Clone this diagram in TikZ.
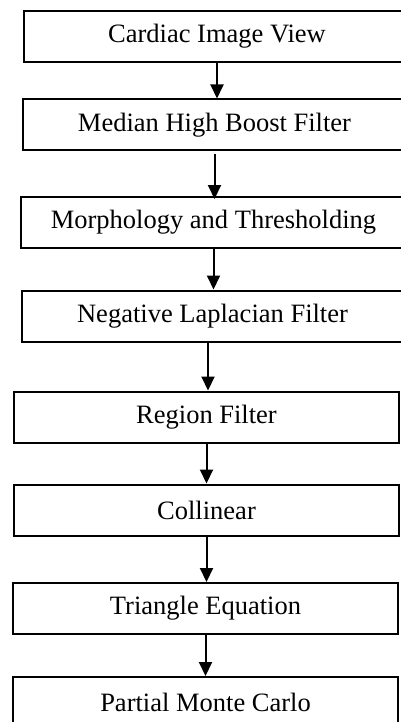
\documentclass[tikz,border=0pt]{standalone}
\usepackage{fontspec}
\setmainfont{Liberation Serif}
\usetikzlibrary{arrows.meta}
\begin{document}
\begin{tikzpicture}[x=1pt,y=1pt,
  stagebox/.style={draw=black, line width=2pt, rectangle, minimum height=51pt, inner sep=0pt,
    font=\fontsize{26.5}{30}\selectfont},
  flowarrow/.style={draw=black, line width=2pt, -{Triangle[width=13pt,length=14pt]}}]
\useasboundingbox (0,0) rectangle (401,-722);
\clip (0,0) rectangle (401,-722);
\node[stagebox, minimum width=386pt] (a) at (217,-36.5) {Cardiac Image View};
\node[stagebox, minimum width=383pt] (b) at (214.5,-125) {Median High Boost Filter};
\node[stagebox, minimum width=385pt] (c) at (213.5,-222.5) {Morphology and Thresholding};
\node[stagebox, minimum width=381pt] (d) at (212.5,-316) {Negative Laplacian Filter};
\node[stagebox, minimum width=385pt] (e) at (206.5,-417) {Region Filter};
\node[stagebox, minimum width=385pt] (f) at (206.5,-510) {Collinear};
\node[stagebox, minimum width=385pt] (g) at (205.5,-608.5) {Triangle Equation};
\node[stagebox, minimum width=385pt] (h) at (205.5,-702.5) {Partial Monte Carlo};
\draw[flowarrow] (a.south) -- (a.south |- b.north);
\draw[flowarrow] ([yshift=-3pt]b.south) -- ([yshift=-3pt]b.south |- c.north);
\draw[flowarrow] (c.south) -- (c.south |- d.north);
\draw[flowarrow] ([xshift=-4.5pt]d.south) -- ([xshift=-4.5pt]d.south |- e.north);
\draw[flowarrow] (e.south) -- (e.south |- f.north);
\draw[flowarrow] (f.south) -- (f.south |- g.north);
\draw[flowarrow] (g.south) -- (g.south |- h.north);
\end{tikzpicture}
\end{document}
